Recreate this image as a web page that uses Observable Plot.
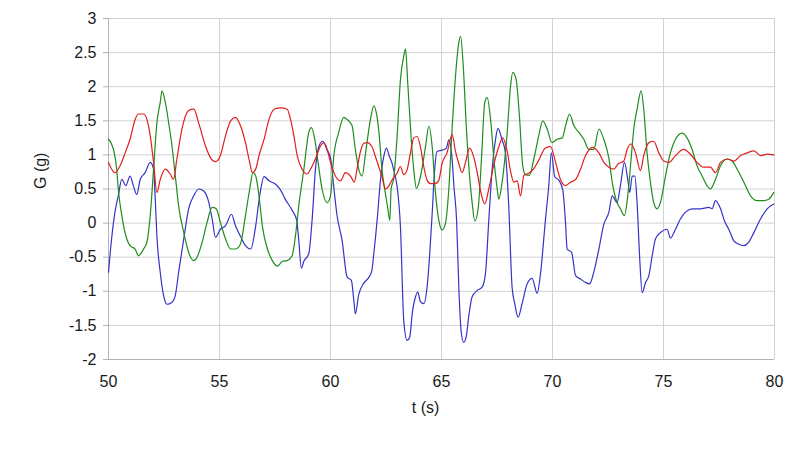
<!DOCTYPE html>
<html><head><meta charset="utf-8">
<script src="https://cdn.jsdelivr.net/npm/d3@7"></script>
<script src="https://cdn.jsdelivr.net/npm/@observablehq/plot@0.6"></script>
<style>
body{margin:0;background:#fff;}
svg{font-family:"Liberation Sans",Arial,sans-serif;}
g[aria-label="y-axis tick"]{stroke:#b3b3b3;}
</style>
</head><body><div id="chart"></div>
<script>
const xTicks = [50,55,60,65,70,75,80];
const yTicks = [-2,-1.5,-1,-0.5,0,0.5,1,1.5,2,2.5,3];
const xLabel = "t (s)";
const yLabel = "G (g)";

// [t (s), G (g)] pairs
const red = [[50.0,0.89],[50.29,0.74],[50.52,0.84],[50.75,1.03],[50.97,1.23],[51.2,1.52],[51.35,1.6],[51.58,1.6],[51.73,1.52],[51.88,1.28],[52.03,0.89],[52.18,0.45],[52.33,0.64],[52.56,0.79],[52.78,0.72],[52.93,0.64],[53.08,0.94],[53.31,1.38],[53.61,1.65],[53.84,1.67],[54.06,1.47],[54.37,1.13],[54.59,0.96],[54.82,0.9],[55.04,0.99],[55.27,1.28],[55.5,1.5],[55.72,1.55],[55.94,1.43],[56.17,1.18],[56.36,0.89],[56.48,0.74],[56.63,0.79],[56.78,0.99],[57.01,1.23],[57.23,1.52],[57.46,1.67],[57.76,1.69],[58.05,1.67],[58.2,1.52],[58.35,1.28],[58.5,0.99],[58.72,0.79],[58.95,0.72],[59.1,0.79],[59.32,0.94],[59.55,1.13],[59.7,1.18],[59.85,1.08],[60.0,0.89],[60.22,0.69],[60.45,0.62],[60.67,0.74],[60.9,0.69],[61.07,0.6],[61.2,0.8],[61.35,1.05],[61.5,1.17],[61.65,1.18],[61.87,1.12],[62.02,0.98],[62.17,0.83],[62.32,0.68],[62.47,0.5],[62.62,0.54],[62.77,0.63],[63.0,0.73],[63.15,0.83],[63.3,0.71],[63.45,0.78],[63.6,1.03],[63.75,1.25],[63.9,1.27],[64.05,1.12],[64.2,0.83],[64.35,0.63],[64.5,0.58],[64.73,0.58],[64.88,0.63],[65.03,0.88],[65.25,1.03],[65.48,1.3],[65.63,1.05],[65.78,0.87],[65.93,0.74],[66.08,0.89],[66.26,1.1],[66.46,0.96],[66.61,0.74],[66.76,0.47],[66.95,0.28],[67.13,0.5],[67.36,0.86],[67.58,1.12],[67.76,1.25],[67.96,1.05],[68.11,0.76],[68.26,0.6],[68.41,0.62],[68.56,0.4],[68.71,0.7],[68.93,0.73],[69.16,0.8],[69.38,0.92],[69.68,1.1],[69.91,1.12],[70.14,0.89],[70.36,0.64],[70.59,0.55],[70.81,0.6],[71.04,0.64],[71.26,0.79],[71.49,0.99],[71.79,1.11],[72.09,1.03],[72.31,0.89],[72.54,0.82],[72.76,0.79],[72.96,0.87],[73.21,0.91],[73.36,1.08],[73.54,1.16],[73.74,1.03],[73.96,0.77],[74.11,0.99],[74.34,1.18],[74.56,1.2],[74.79,1.03],[75.01,0.91],[75.24,0.89],[75.54,0.99],[75.91,1.08],[76.21,1.01],[76.51,0.89],[76.81,0.82],[77.11,0.82],[77.34,0.74],[77.57,0.89],[77.87,0.94],[78.17,0.91],[78.47,0.99],[78.77,1.03],[79.07,1.06],[79.37,0.99],[79.67,1.01],[79.97,1.0]];

const green = [[50.0,1.23],[50.11,1.18],[50.26,1.03],[50.37,0.79],[50.44,0.5],[50.6,0.11],[50.82,-0.23],[50.97,-0.33],[51.2,-0.38],[51.35,-0.48],[51.58,-0.38],[51.73,-0.28],[51.88,0.11],[52.03,0.79],[52.18,1.47],[52.33,1.77],[52.41,1.94],[52.56,1.77],[52.71,1.47],[52.86,1.13],[53.01,0.69],[53.16,0.25],[53.39,-0.14],[53.61,-0.43],[53.84,-0.55],[53.99,-0.5],[54.22,-0.28],[54.44,0.01],[54.67,0.23],[54.85,0.21],[55.04,0.01],[55.27,-0.23],[55.5,-0.38],[55.72,-0.38],[55.94,-0.31],[56.17,0.11],[56.36,0.5],[56.51,0.74],[56.63,0.69],[56.78,0.4],[56.93,-0.04],[57.16,-0.38],[57.38,-0.55],[57.61,-0.63],[57.84,-0.56],[58.05,-0.55],[58.27,-0.48],[58.42,-0.19],[58.57,0.25],[58.8,0.79],[59.02,1.33],[59.14,1.4],[59.29,1.23],[59.44,0.89],[59.62,0.5],[59.85,0.3],[60.0,0.4],[60.15,0.99],[60.37,1.33],[60.6,1.55],[60.75,1.52],[60.97,1.43],[61.12,1.08],[61.27,0.79],[61.42,0.69],[61.6,1.08],[61.8,1.52],[61.95,1.72],[62.1,1.55],[62.17,1.37],[62.32,0.78],[62.47,0.44],[62.57,0.24],[62.67,0.04],[62.73,0.5],[62.85,0.66],[63.0,1.27],[63.15,2.1],[63.3,2.45],[63.38,2.55],[63.48,2.05],[63.63,1.27],[63.75,0.78],[63.87,0.51],[64.05,0.68],[64.28,1.12],[64.43,1.42],[64.58,1.12],[64.73,0.44],[64.88,0.04],[65.03,-0.1],[65.18,0.0],[65.33,0.5],[65.48,1.4],[65.63,2.15],[65.78,2.65],[65.86,2.74],[65.98,2.3],[66.12,1.4],[66.25,0.75],[66.38,0.3],[66.5,0.03],[66.65,0.21],[66.8,0.94],[66.95,1.77],[67.06,1.84],[67.21,1.52],[67.36,0.94],[67.51,0.5],[67.58,0.35],[67.73,0.6],[67.96,1.33],[68.11,2.01],[68.21,2.21],[68.36,2.11],[68.51,1.57],[68.66,0.84],[68.78,0.71],[68.96,0.7],[69.16,0.94],[69.38,1.28],[69.56,1.5],[69.76,1.38],[69.98,1.18],[70.21,1.23],[70.44,1.25],[70.59,1.43],[70.77,1.6],[70.96,1.43],[71.19,1.33],[71.41,1.23],[71.64,1.08],[71.86,1.08],[72.09,1.38],[72.31,1.23],[72.54,0.95],[72.69,0.6],[72.91,0.3],[73.06,0.21],[73.24,0.11],[73.39,0.4],[73.54,0.94],[73.66,1.38],[73.81,1.67],[73.99,1.94],[74.11,1.67],[74.26,1.03],[74.41,0.6],[74.56,0.3],[74.71,0.21],[74.86,0.3],[75.09,0.69],[75.31,1.03],[75.54,1.23],[75.84,1.32],[76.06,1.25],[76.29,1.08],[76.51,0.84],[76.74,0.69],[76.96,0.55],[77.11,0.5],[77.34,0.64],[77.57,0.84],[77.87,0.94],[78.09,0.91],[78.32,0.79],[78.62,0.6],[78.92,0.4],[79.22,0.33],[79.52,0.33],[79.74,0.35],[79.97,0.45]];

const blue = [[50.0,-0.72],[50.14,-0.23],[50.29,0.16],[50.44,0.4],[50.6,0.64],[50.78,0.55],[50.97,0.69],[51.12,0.55],[51.27,0.42],[51.43,0.64],[51.65,0.74],[51.88,0.89],[52.03,0.79],[52.1,0.4],[52.18,-0.19],[52.33,-0.72],[52.48,-1.06],[52.63,-1.19],[52.86,-1.16],[53.01,-1.06],[53.16,-0.72],[53.39,-0.23],[53.61,0.21],[53.84,0.4],[54.06,0.5],[54.29,0.47],[54.52,0.3],[54.67,0.06],[54.82,-0.21],[55.04,-0.09],[55.27,-0.04],[55.54,0.13],[55.72,-0.04],[55.94,-0.19],[56.17,-0.33],[56.41,-0.38],[56.63,-0.04],[56.81,0.4],[57.01,0.68],[57.23,0.62],[57.53,0.57],[57.76,0.48],[57.98,0.34],[58.27,0.19],[58.48,0.04],[58.57,-0.25],[58.69,-0.66],[58.8,-0.56],[59.02,-0.45],[59.17,0.04],[59.32,0.78],[59.47,1.12],[59.65,1.2],[59.85,1.07],[60.0,0.96],[60.15,0.52],[60.3,0.1],[60.52,-0.25],[60.75,-0.79],[60.94,-0.84],[61.05,-1.13],[61.12,-1.33],[61.27,-1.05],[61.5,-0.88],[61.72,-0.8],[61.86,-0.7],[61.95,-0.45],[62.1,0.04],[62.25,0.63],[62.4,0.98],[62.52,1.1],[62.65,0.98],[62.77,0.88],[62.88,0.73],[63.0,0.54],[63.15,-0.05],[63.3,-1.43],[63.45,-1.72],[63.57,-1.67],[63.68,-1.33],[63.83,-1.08],[63.93,-1.01],[64.05,-1.15],[64.2,-1.18],[64.35,-0.94],[64.47,-0.45],[64.58,0.14],[64.68,0.73],[64.8,1.05],[65.03,1.07],[65.22,1.1],[65.33,1.22],[65.48,0.93],[65.56,0.54],[65.68,0.04],[65.78,-0.94],[65.89,-1.6],[66.0,-1.75],[66.12,-1.65],[66.23,-1.36],[66.38,-1.08],[66.6,-0.99],[66.83,-0.94],[66.98,-0.74],[67.13,0.04],[67.28,0.78],[67.43,1.22],[67.54,1.39],[67.73,1.22],[67.88,1.03],[68.03,0.24],[68.18,-0.94],[68.3,-1.18],[68.45,-1.38],[68.63,-1.18],[68.86,-0.89],[69.08,-0.81],[69.31,-1.03],[69.46,-0.74],[69.68,0.04],[69.83,0.54],[69.95,1.03],[70.1,0.68],[70.28,0.63],[70.46,0.49],[70.58,0.04],[70.66,-0.38],[70.86,-0.43],[71.04,-0.77],[71.26,-0.82],[71.49,-0.87],[71.67,-0.89],[71.86,-0.72],[72.09,-0.38],[72.31,-0.02],[72.54,0.16],[72.69,0.4],[72.91,0.3],[73.06,0.55],[73.24,0.89],[73.39,0.64],[73.48,0.45],[73.59,0.69],[73.71,0.69],[73.81,0.3],[73.93,-0.53],[74.04,-1.02],[74.19,-0.87],[74.34,-0.77],[74.49,-0.48],[74.64,-0.23],[74.86,-0.14],[75.16,-0.09],[75.31,-0.22],[75.54,-0.09],[75.76,0.06],[75.99,0.16],[76.29,0.21],[76.66,0.21],[77.04,0.23],[77.19,0.21],[77.34,0.33],[77.57,0.21],[77.75,0.03],[77.94,-0.09],[78.17,-0.26],[78.39,-0.31],[78.62,-0.33],[78.84,-0.28],[79.07,-0.14],[79.37,0.06],[79.67,0.21],[79.97,0.28]];

const seriesList = [["blue", blue], ["green", green], ["red", red]];
const colors = {blue: "#3434c8", green: "#1f8c1f", red: "#e01e1e"};

const rows = seriesList.flatMap(([s, pts]) => pts.map(([t, g]) => ({t, g, s})));

const chart = Plot.plot({
  width: 800,
  height: 449,
  marginLeft: 108,
  marginRight: 26,
  marginTop: 18,
  marginBottom: 90,
  style: {fontFamily: "'Liberation Sans', Arial, sans-serif", fontSize: "16px", color: "#1a1a1a", background: "#fff"},
  x: {domain: [50, 80]},
  y: {domain: [-2, 3]},
  marks: [
    Plot.gridX(xTicks, {stroke: "#d2d2d2", strokeOpacity: 1}),
    Plot.gridY(yTicks, {stroke: "#d2d2d2", strokeOpacity: 1}),
    Plot.ruleX([50], {stroke: "#b3b3b3"}),
    Plot.ruleY([-2], {stroke: "#b3b3b3"}),
    Plot.axisY(yTicks, {tickSize: 5, tickPadding: 7, label: null, tickFormat: d => String(d), fontSize: 16}),
    Plot.axisX(xTicks, {tickSize: 0, tickPadding: 16, label: null, tickFormat: d => String(d), fontSize: 16}),
    ...seriesList.map(([s]) => Plot.line(rows.filter(r => r.s === s), {x: "t", y: "g", stroke: colors[s], strokeWidth: 1.2, curve: "monotone-x"})),
    Plot.text([yLabel], {frameAnchor: "left", rotate: -90, dx: -68, fontSize: 16, fill: "#1a1a1a"}),
    Plot.text([xLabel], {frameAnchor: "bottom", dx: -16, dy: 53, fontSize: 16, fill: "#1a1a1a"})
  ]
});
document.getElementById("chart").appendChild(chart);
</script>
</body></html>
